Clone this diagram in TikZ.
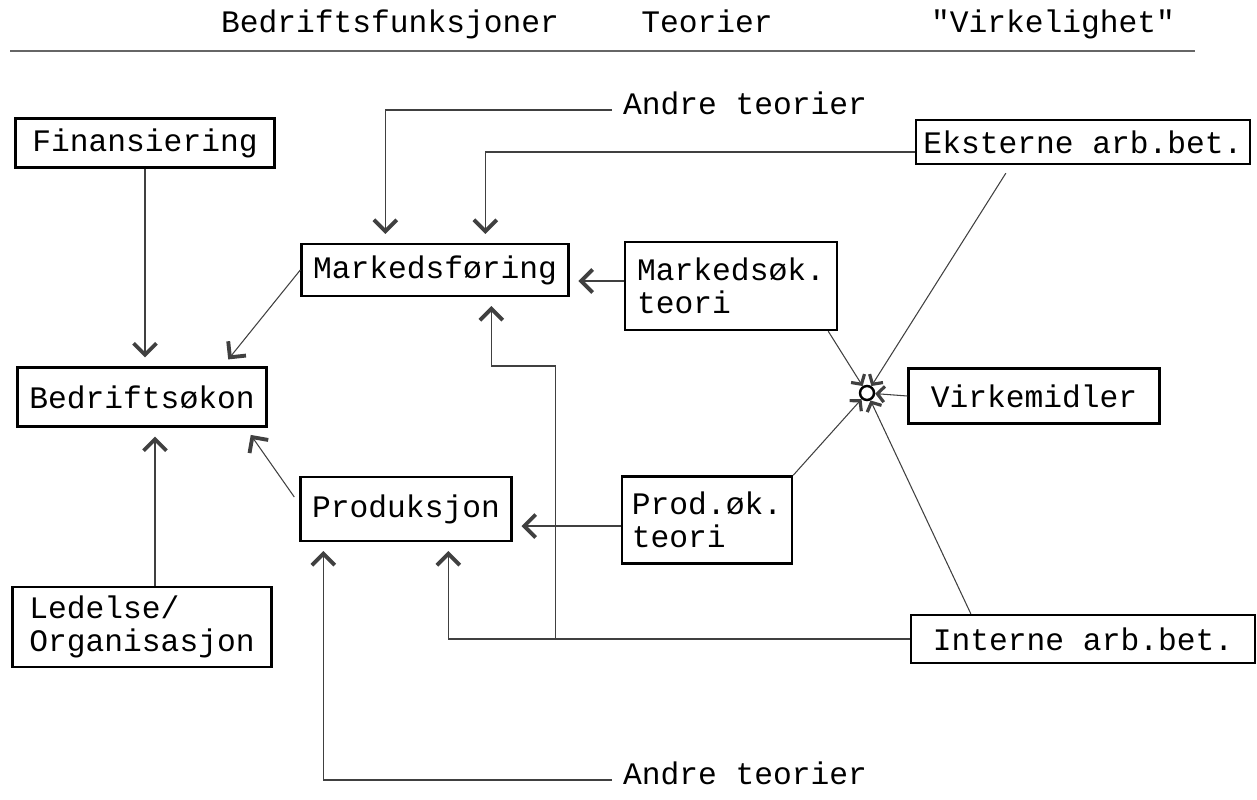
\documentclass[tikz,border=0pt]{standalone}
\usepackage{fontspec}
\newfontfamily\tw{Liberation Mono}
\newcommand\twfont{\tw\fontsize{17.8}{18.5}\selectfont}
\usetikzlibrary{arrows.meta, positioning, calc}

\begin{document}
\begin{tikzpicture}[x=0.02cm, y=-0.02cm,
    box/.style={draw, line width=1.4pt, font=\twfont, inner sep=0pt, align=left},
    lbl/.style={font=\twfont, inner sep=6pt, text height=0.75em, text depth=0.25em},
    con/.style={black!75, line width=0.6pt},
    arr/.style={con, -{Straight Barb[length=6.5pt, width=13pt, line width=2.2pt]}, shorten >=5pt},
    harr/.style={con, -{Straight Barb[length=4pt, width=9pt, line width=1.8pt]}}]
    \useasboundingbox (0,0) rectangle (1257,800);
    % column heads
    \node[lbl] (hbf) at (390,28) {Bedriftsfunksjoner};
    \node[lbl] (hteo) at (707,28) {Teorier};
    \node[lbl] (hvirk) at (1053,28) {"Virkelighet"};
    \draw[black!60, line width=0.6pt] (10,51) -- (1195,51);
    % boxes
    \node[box, minimum width=5.18cm, minimum height=0.98cm] (fin) at (145,143) {Finansiering};
    \node[box, minimum width=4.98cm, minimum height=1.18cm] (bok) at (142,397) {Bedriftsøkon};
    \node[box, minimum width=5.18cm, minimum height=1.6cm] (led) at (142,627) {Ledelse/\\Organisasjon};
    \node[box, minimum width=5.34cm, minimum height=1.04cm] (mf) at (435,270) {Markedsføring};
    \node[box, minimum width=4.22cm, minimum height=1.28cm] (prod) at (406,509) {Produksjon};
    \node[box, minimum width=4.24cm, minimum height=1.76cm] (msk) at (731,286) {Markedsøk.\\teori};
    \node[box, minimum width=3.4cm, minimum height=1.74cm] (psk) at (707,520) {Prod.øk.\\teori};
    \node[box, minimum width=6.68cm, minimum height=0.88cm] (eks) at (1083,142) {Eksterne arb.bet.};
    \node[box, minimum width=5.02cm, minimum height=1.1cm] (virk) at (1034,396) {Virkemidler};
    \node[box, minimum width=6.88cm, minimum height=0.96cm] (int) at (1083,639) {Interne arb.bet.};
    \node[lbl] (at1) at (745,110) {Andre teorier};
    \node[lbl] (at2) at (745,780) {Andre teorier};
    \node[circle, draw, line width=1.4pt, minimum size=0.28cm, inner sep=0pt] (hub) at (867,393) {};
    % arrows
    \draw[arr] (fin.south) -- (fin.south |- bok.north);
    \draw[arr] (mf.west) -- ($(bok.north east)+(-45,0)$);
    \draw[arr] ($(led.north)+(13,0)$) -- ($(bok.south)+(13,0)$);
    \draw[arr] ($(prod.west)+(-5,-12)$) -- ($(bok.south east)+(-22,0)$);
    \draw[arr] (at1.west) -| ($(mf.north west)+(85,0)$);
    \draw[arr] ($(eks.west)+(0,10)$) -| ($(mf.north west)+(185,0)$);
    \draw[arr] ($(msk.west)+(0,-5)$) -- ($(mf.east)+(0,11)$);
    \draw[arr] ($(psk.west)+(0,6)$) -- ($(prod.east)+(0,17)$);
    \draw[arr] (int.west) -| ($(prod.south west)+(149,0)$);
    \coordinate (split) at ($(int.west -| mf.south east)+(-14,0)$);
    \coordinate (bend) at ($(split)+(0,-273)$);
    \draw[arr] (split) -- (bend) -| ($(mf.south west)+(191,0)$);
    \draw[arr] (at2.west) -| ($(prod.south west)+(24,0)$);
    % into the hub
    \coordinate (s1) at ($(msk.south east)+(-10,0)$);
    \coordinate (s2) at ($(eks.south west)+(91,8)$);
    \coordinate (s3) at (psk.north east);
    \coordinate (s4) at (virk.west);
    \coordinate (s5) at ($(int.north west)+(61,0)$);
    \foreach \s in {s1,s2,s3,s4,s5} {
        \draw[harr] (\s) -- (hub);
    }
\end{tikzpicture}
\end{document}
